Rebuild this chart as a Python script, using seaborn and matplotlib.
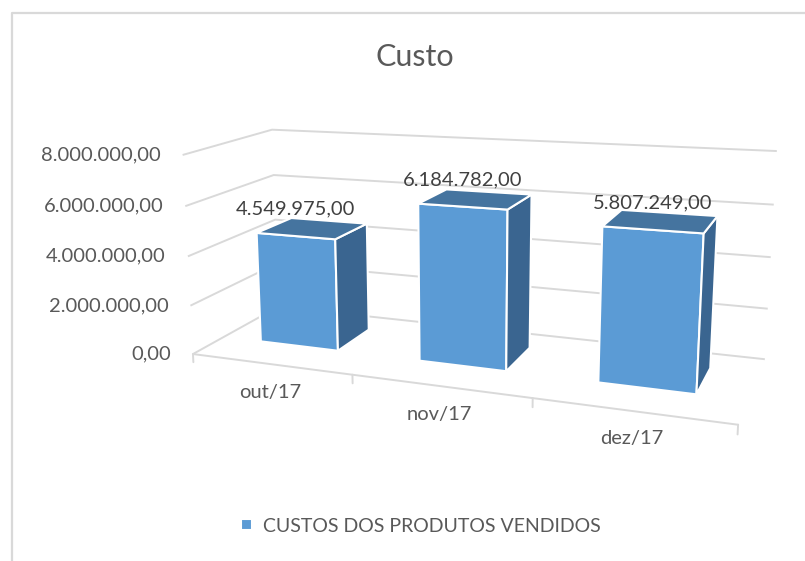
import numpy as np
import pandas as pd
import matplotlib
matplotlib.use("Agg")
import matplotlib.pyplot as plt
import matplotlib.transforms as mtransforms
import seaborn as sns

# ---------------- data ----------------
months = ["out/17", "nov/17", "dez/17"]
custos = [4549975.00, 6184782.00, 5807249.00]
y_ticks = [0, 2_000_000, 4_000_000, 6_000_000, 8_000_000]
title = "Custo"
series_name = "CUSTOS DOS PRODUTOS VENDIDOS"

# ---------------- style ----------------
W, H = 805, 561
sns.set_theme(style="white")
plt.rcParams["font.family"] = ["Lato", "DejaVu Sans"]

FRONT = "#5B9BD5"
SIDE = "#3A6590"
TOP = "#45749F"
GRID = "#D9D9D9"
TEXT = "#595959"
LABEL = "#404040"
FS = 14.5

# ---------------- 3-D camera (perspective view of the chart box) ----------------
F = 1180.0
CX, CY = 464.0, 222.0
EX = np.array([0.922, 0.066, -0.378])     # category axis direction
EUP = np.array([0.0, -0.976, -0.215])     # value axis direction
ED = np.array([0.362, -0.215, 0.907])     # depth axis direction
ORIGIN = np.array([-0.2297, 0.1119, 1.0]) # front-left-bottom corner of floor
CAT_W = 0.1525
VAL_W = 0.02134 / 1e6
FLOOR_D = 0.1433
BAR_D0, BAR_D1 = 0.048, 0.108


def project(xcat, depth, value):
    """Map (category position, depth, value) to figure pixels."""
    xcat, depth, value = np.broadcast_arrays(np.asarray(xcat, float),
                                             np.asarray(depth, float),
                                             np.asarray(value, float))
    xw = (xcat.ravel() + 0.5) * CAT_W
    P = (ORIGIN + np.outer(xw, EX) + np.outer(value.ravel() * VAL_W, EUP)
         + np.outer(depth.ravel(), ED))
    return np.column_stack([CX + F * P[:, 0] / P[:, 2], CY + F * P[:, 1] / P[:, 2]])


class PlaneProjection(mtransforms.Transform):
    """Projects seaborn's (category, value) data plane at a given depth."""
    input_dims = 2
    output_dims = 2
    is_separable = False
    has_inverse = False

    def __init__(self, plane_depth):
        super().__init__()
        self.plane_depth = plane_depth

    def transform_non_affine(self, values):
        v = np.asarray(values, float).reshape(-1, 2)
        return project(v[:, 0], self.plane_depth, v[:, 1])


def fmt_br(v):
    return f"{v:,.2f}".replace(",", "X").replace(".", ",").replace("X", ".")


# ---------------- figure ----------------
fig = plt.figure(figsize=(W / 100, H / 100), dpi=100)
ax = fig.add_axes([0, 0, 1, 1])

df = pd.DataFrame({"mes": months, "custo": custos})
sns.barplot(data=df, x="mes", y="custo", ax=ax, color=FRONT, saturation=1,
            width=0.5, errorbar=None, edgecolor="white", linewidth=1.5,
            label=series_name, zorder=3)
bars = list(ax.patches)

ax.set_xlim(0, W)
ax.set_ylim(H, 0)
ax.set_axis_off()

front_tf = PlaneProjection(BAR_D0) + ax.transData
for b in bars:
    b.set_transform(front_tf)

n = len(months)
x_left, x_right = -0.5, n - 0.5

# walls: gridlines on side wall and back wall
for z in y_ticks:
    pts = project([x_left, x_left, x_right], [0, FLOOR_D, FLOOR_D], [z, z, z])
    ax.plot(pts[:, 0], pts[:, 1], color=GRID, lw=1.4, zorder=1,
            solid_capstyle="butt")
    p = project(x_left, 0, z)[0]
    ax.text(p[0] - 22, p[1], fmt_br(z), ha="right", va="center",
            fontsize=FS, color=TEXT)

# floor front edge (category axis) with ticks
pts = project([x_left, x_right], [0, 0], [0, 0])
ax.plot(pts[:, 0], pts[:, 1], color=GRID, lw=1.4, zorder=1)
for xb in np.arange(x_left, x_right + 0.01, 1.0):
    t = project([xb, xb], [0, 0], [0, -y_ticks[1] * 0.17])
    ax.plot(t[:, 0], t[:, 1], color=GRID, lw=1.4, zorder=1)
for i, m in enumerate(months):
    p = project(i, 0, 0)[0]
    ax.text(p[0], p[1] + 28, m, ha="center", va="center", fontsize=FS,
            color=TEXT)

# 3-D faces of the bars derived from seaborn's bar patches
for b in bars:
    x0, w, h = b.get_x(), b.get_width(), b.get_height()
    x1 = x0 + w
    side = project([x1, x1, x1, x1], [BAR_D0, BAR_D1, BAR_D1, BAR_D0], [0, 0, h, h])
    ax.fill(side[:, 0], side[:, 1], facecolor=SIDE, edgecolor="white",
            lw=1.5, zorder=3)
    top = project([x0, x1, x1, x0], [BAR_D0, BAR_D0, BAR_D1, BAR_D1], [h, h, h, h])
    ax.fill(top[:, 0], top[:, 1], facecolor=TOP, edgecolor="white",
            lw=1.5, zorder=3)
    p = project(x0 + w / 2, BAR_D0, h)[0]
    ax.text(p[0], p[1] - 27, fmt_br(h), ha="center", va="center",
            fontsize=FS, color=LABEL, zorder=4)

# title
ax.text(415, 57, title, ha="center", va="center", fontsize=22, color=TEXT)

# chart frame (left and top edges visible)
ax.plot([12, 12, W + 5], [H + 5, 13, 13], color=GRID, lw=1.6, zorder=0)

# legend
leg = ax.legend(handles=[bars[0]], labels=[series_name], loc="center",
                bbox_to_anchor=(421 / W, 1 - 526 / H), bbox_transform=fig.transFigure,
                frameon=False, fontsize=14, handlelength=0.55, handleheight=0.55,
                handletextpad=0.6, labelcolor=TEXT)

fig.savefig("out.png", dpi=100)
